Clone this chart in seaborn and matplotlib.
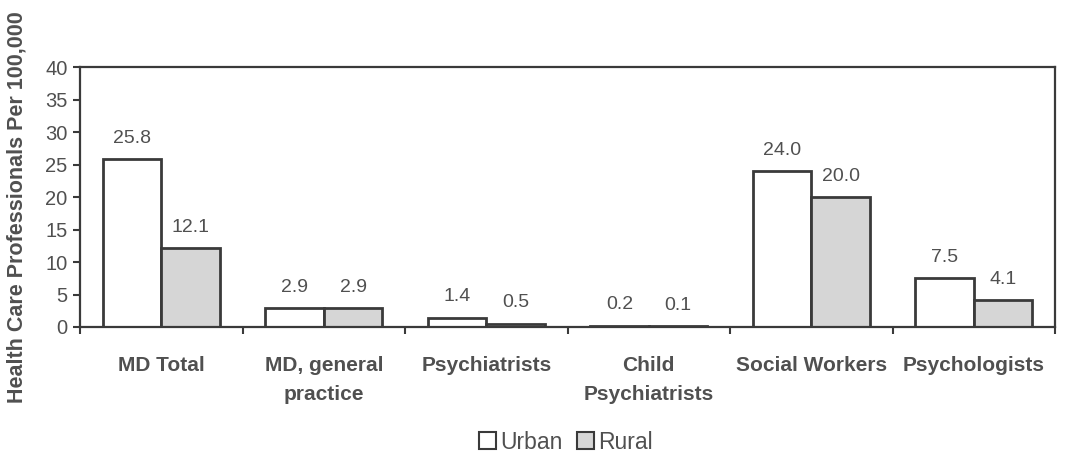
import matplotlib
matplotlib.use("Agg")
import matplotlib.pyplot as plt
import seaborn as sns
import pandas as pd
import numpy as np
from matplotlib.patches import Patch

categories = ["MD Total", "MD, general\npractice", "Psychiatrists",
              "Child\nPsychiatrists", "Social Workers", "Psychologists"]
urban = [25.8, 2.9, 1.4, 0.2, 24.0, 7.5]
rural = [12.1, 2.9, 0.5, 0.1, 20.0, 4.1]
series = ["Urban", "Rural"]

df = pd.DataFrame({
    "category": categories * 2,
    "value": urban + rural,
    "series": ["Urban"] * len(categories) + ["Rural"] * len(categories),
})

sns.set_style("white")
plt.rcParams['font.family'] = ['Liberation Sans', 'DejaVu Sans']

TXT = "#505050"
EDGE = "#3a3a3a"
colors = {"Urban": "white", "Rural": "#d6d6d6"}

fig = plt.figure(figsize=(10.7, 4.57), dpi=100)
ax = fig.add_axes([0.0748, 0.2845, 0.9112, 0.5685])

sns.barplot(data=df, x="category", y="value", hue="series", hue_order=series,
            palette=colors, order=categories, width=0.72, gap=0,
            edgecolor=EDGE, linewidth=2, ax=ax, legend=False, errorbar=None)

for cont, vals in zip(ax.containers, [urban, rural]):
    ax.bar_label(cont, labels=[f"{v:.1f}" for v in vals], padding=9,
                 fontsize=14, color=TXT)

ax.set_ylim(0, 40)
ax.set_xlim(-0.5, len(categories) - 0.5)
ax.set_yticks(np.arange(0, 41, 5))
ax.tick_params(axis="y", labelsize=14.5, colors=EDGE, labelcolor=TXT,
               direction="out", length=5, width=1.5, left=True, pad=4)
ax.tick_params(axis="x", which="major", length=0, labelsize=15,
               labelcolor=TXT, pad=21)
ax.set_xticks(np.arange(-0.5, len(categories), 1.0), minor=True)
ax.tick_params(axis="x", which="minor", direction="out", length=5, width=1.5,
               colors=EDGE, bottom=True)
for lab in ax.get_xticklabels():
    lab.set_fontweight("bold")
    lab.set_linespacing(1.65)

ax.set_xlabel("")
ax.set_ylabel("")
fig.text(17 / 1070, 1 - 207 / 457, "Health Care Professionals Per 100,000",
         rotation=90, ha="center", va="center", fontsize=15.5,
         fontweight="bold", color=TXT)

for s in ax.spines.values():
    s.set_color(EDGE)
    s.set_linewidth(1.6)
    s.set_visible(True)

handles = [Patch(facecolor=colors[s], edgecolor=EDGE, linewidth=1.5, label=s)
           for s in series]
fig.legend(handles=handles, loc="center", bbox_to_anchor=(0.529, 0.032),
           ncol=2, frameon=False, fontsize=16.5, handlelength=0.75,
           handleheight=0.75, handletextpad=0.2, columnspacing=0.6,
           labelcolor=TXT)

fig.savefig("out.png", dpi=100)
